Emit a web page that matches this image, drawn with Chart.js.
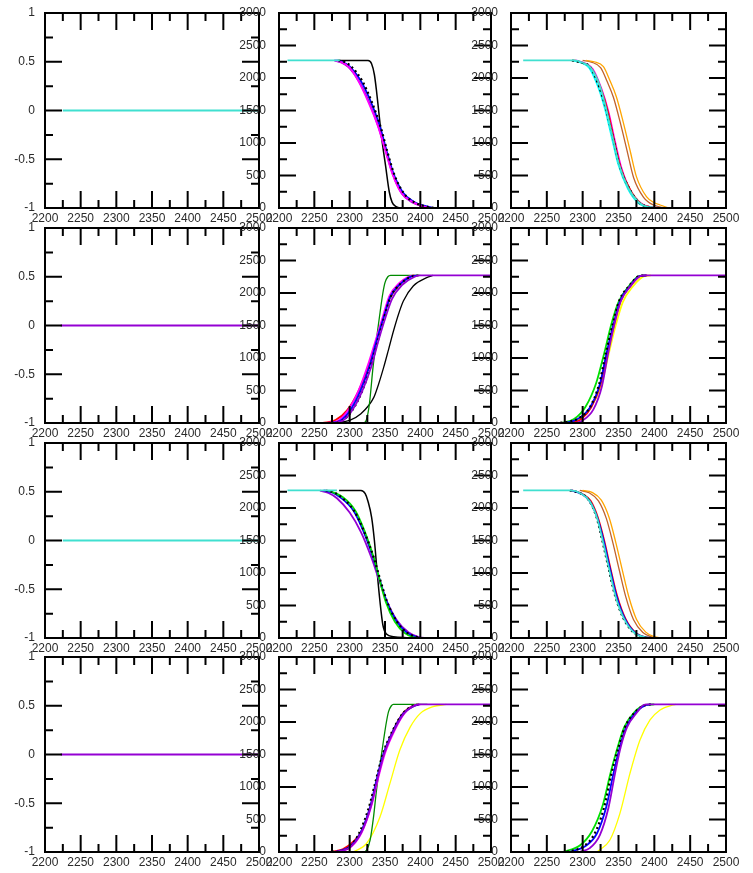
<!DOCTYPE html>
<html>
<head>
<meta charset="utf-8">
<script src="https://cdn.jsdelivr.net/npm/chart.js@4.4.1/dist/chart.umd.min.js"></script>
<style>
  html, body { margin: 0; padding: 0; background: #fff; }
  #wrap { position: relative; width: 753px; height: 873px; overflow: hidden; background: #fff; }
  canvas { position: absolute; }
</style>
</head>
<body>
<div id="wrap"></div>
<script>
// ---------- tick labels ----------
const xTickVals = [2200, 2250, 2300, 2350, 2400, 2450, 2500];
const yTickValsFlat = [-1, -0.5, 0, 0.5, 1];
const yTickValsCount = [0, 500, 1000, 1500, 2000, 2500, 3000];

// ---------- colours ----------
const C = {
  turq: '#40e0d0', black: '#000000', blue: '#0000ff', violet: '#9400d3',
  magenta: '#ff00ff', red: '#ff0000', green: '#008b00', lime: '#00e000',
  yellow: '#ffff00', orange: '#ffa500', brown: '#c0622d', cyan: '#00ffff'
};

// ---------- column 1 (flat lines at 0) ----------
const r1c1Turq = [[2225, 0], [2500, 0]];
const r2c1Violet = [[2222, 0], [2500, 0]];
const r3c1Turq = [[2225, 0], [2500, 0]];
const r4c1Violet = [[2222, 0], [2500, 0]];

// ---------- row 1, column 2 ----------
const r1c2Turq = [[2212, 2270], [2286, 2270]];
const r1c2BlackSharp = [[2282, 2270], [2326, 2268], [2331, 2220], [2335, 2050], [2338, 1800], [2341, 1500], [2345, 1100], [2351, 635], [2356, 250], [2360, 90], [2365, 25], [2372, 0], [2380, 0]];
const r1c2Blue = [[2280, 2270], [2290, 2245], [2300, 2180], [2315, 1970], [2329, 1660], [2343, 1250], [2352, 890], [2362, 530], [2376, 230], [2390, 100], [2405, 35], [2420, 0]];
const r1c2Violet = [[2278, 2270], [2288, 2240], [2298, 2170], [2313, 1950], [2327, 1640], [2341, 1240], [2351, 880], [2361, 520], [2374, 220], [2388, 90], [2402, 30], [2415, 0]];
const r1c2Magenta = [[2280, 2268], [2290, 2235], [2300, 2160], [2312, 1960], [2326, 1640], [2340, 1260], [2350, 900], [2360, 540], [2372, 250], [2386, 110], [2400, 40], [2412, 0]];
const r1c2BlackDot = [[2284, 2270], [2294, 2240], [2303, 2170], [2318, 1950], [2331, 1640], [2344, 1240], [2353, 880], [2363, 520], [2377, 220], [2392, 85], [2408, 25], [2420, 0]];

// ---------- row 1, column 3 ----------
const r1c3Turq = [[2217, 2270], [2288, 2270], [2300, 2235], [2311, 2160], [2324, 1880], [2333, 1520], [2342, 1080], [2351, 660], [2364, 300], [2378, 90], [2392, 15], [2420, 0]];
const r1c3BlackDot = [[2285, 2270], [2297, 2240], [2310, 2174], [2323, 1870], [2333, 1508], [2343, 1046], [2352, 635], [2366, 277], [2380, 72], [2394, 10], [2405, 0]];
const r1c3Red = [[2288, 2270], [2300, 2230], [2312, 2150], [2325, 1850], [2335, 1490], [2344, 1030], [2353, 620], [2367, 265], [2381, 70], [2396, 10], [2405, 0]];
const r1c3Magenta = [[2290, 2270], [2302, 2230], [2314, 2140], [2326, 1840], [2336, 1480], [2345, 1030], [2354, 620], [2367, 260], [2382, 65], [2398, 8], [2410, 0]];
const r1c3Cyan = [[2286, 2270], [2298, 2235], [2309, 2160], [2321, 1880], [2331, 1530], [2341, 1070], [2350, 660], [2363, 300], [2377, 85], [2392, 12], [2402, 0]];
const r1c3Orange = [[2305, 2270], [2316, 2250], [2329, 2174], [2338, 1960], [2347, 1712], [2357, 1303], [2366, 892], [2375, 482], [2389, 174], [2400, 80], [2408, 46], [2420, 0]];
const r1c3Brown = [[2300, 2270], [2312, 2245], [2325, 2160], [2334, 1950], [2343, 1700], [2353, 1290], [2362, 880], [2371, 470], [2385, 165], [2400, 40], [2415, 0]];

// ---------- row 2, column 2 ----------
const r2c2Violet = [[2270, 0], [2288, 25], [2302, 170], [2317, 470], [2331, 880], [2340, 1240], [2350, 1600], [2360, 1910], [2374, 2120], [2392, 2250], [2400, 2270], [2500, 2270]];
const r2c2Blue = [[2272, 0], [2286, 31], [2300, 185], [2315, 492], [2329, 903], [2338, 1262], [2348, 1620], [2357, 1928], [2371, 2133], [2385, 2245], [2395, 2270]];
const r2c2Magenta = [[2268, 0], [2284, 40], [2298, 200], [2313, 510], [2327, 930], [2337, 1280], [2347, 1640], [2356, 1950], [2370, 2150], [2383, 2250], [2390, 2270]];
const r2c2Red = [[2262, 0], [2280, 45], [2296, 190], [2312, 480], [2327, 880], [2337, 1240], [2347, 1600], [2357, 1920], [2372, 2140], [2386, 2255], [2392, 2270]];
const r2c2BlackDot = [[2275, 0], [2290, 40], [2304, 200], [2318, 500], [2331, 920], [2340, 1270], [2349, 1630], [2358, 1940], [2372, 2140], [2390, 2262], [2398, 2270]];
const r2c2GreenSharp = [[2300, 0], [2319, 0], [2324, 60], [2328, 300], [2333, 851], [2338, 1300], [2343, 1700], [2347, 2000], [2350, 2159], [2354, 2250], [2358, 2270], [2400, 2270]];
const r2c2BlackRight = [[2280, 0], [2300, 40], [2315, 133], [2334, 390], [2341, 600], [2348, 851], [2355, 1130], [2362, 1415], [2369, 1670], [2376, 1877], [2390, 2108], [2409, 2236], [2418, 2270]];

// ---------- row 2, column 3 ----------
const r2c3Violet = [[2290, 0], [2300, 40], [2315, 210], [2327, 570], [2335, 1040], [2344, 1510], [2353, 1870], [2367, 2110], [2381, 2262], [2389, 2270], [2500, 2270]];
const r2c3Blue = [[2275, 0], [2292, 56], [2310, 236], [2324, 595], [2333, 1056], [2343, 1518], [2352, 1877], [2366, 2108], [2380, 2262], [2389, 2270]];
const r2c3BlackDot = [[2262, 0], [2280, 20], [2294, 70], [2310, 240], [2323, 600], [2332, 1060], [2342, 1520], [2351, 1880], [2365, 2110], [2379, 2262], [2388, 2270]];
const r2c3Lime = [[2270, 0], [2288, 60], [2304, 250], [2319, 620], [2330, 1070], [2340, 1520], [2350, 1860], [2364, 2100], [2378, 2255], [2388, 2270]];
const r2c3Yellow = [[2280, 0], [2295, 60], [2310, 230], [2326, 590], [2336, 1050], [2346, 1500], [2356, 1860], [2370, 2100], [2385, 2255], [2395, 2270]];
const r2c3Red = [[2285, 0], [2298, 60], [2312, 240], [2325, 600], [2334, 1060], [2344, 1520], [2353, 1880], [2367, 2110], [2381, 2262], [2390, 2270]];

// ---------- row 3, column 2 ----------
const r3c2Turq = [[2212, 2270], [2282, 2270]];
const r3c2BlackSharp = [[2285, 2270], [2316, 2268], [2322, 2220], [2326, 2100], [2331, 1860], [2335, 1500], [2339, 1000], [2343, 550], [2347, 200], [2352, 60], [2362, 20], [2380, 5], [2400, 0]];
const r3c2Blue = [[2263, 2270], [2275, 2240], [2286, 2170], [2305, 1964], [2319, 1655], [2333, 1242], [2343, 881], [2352, 572], [2366, 263], [2381, 82], [2395, 10], [2400, 0]];
const r3c2Violet = [[2258, 2268], [2270, 2230], [2282, 2150], [2300, 1930], [2316, 1630], [2331, 1230], [2342, 880], [2352, 580], [2367, 270], [2383, 90], [2398, 15], [2410, 0]];
const r3c2Lime = [[2270, 2270], [2290, 2170], [2308, 1960], [2321, 1650], [2334, 1240], [2343, 870], [2351, 560], [2364, 250], [2378, 75], [2392, 5], [2395, 0]];
const r3c2BlackDot = [[2266, 2270], [2278, 2240], [2288, 2170], [2306, 1960], [2320, 1650], [2334, 1240], [2344, 870], [2353, 560], [2367, 250], [2382, 75], [2400, 0]];

// ---------- row 3, column 3 ----------
const r3c3Turq = [[2217, 2270], [2283, 2270], [2298, 2220], [2310, 2100], [2320, 1850], [2328, 1500], [2337, 1060], [2346, 640], [2358, 290], [2372, 80], [2388, 10], [2400, 0]];
const r3c3BlackDot = [[2282, 2270], [2296, 2230], [2308, 2130], [2319, 1870], [2327, 1520], [2336, 1080], [2345, 660], [2357, 300], [2371, 85], [2386, 10], [2395, 0]];
const r3c3Red = [[2285, 2270], [2299, 2220], [2311, 2110], [2321, 1860], [2330, 1500], [2339, 1060], [2348, 650], [2360, 290], [2374, 80], [2390, 8], [2400, 0]];
const r3c3Blue = [[2284, 2270], [2297, 2225], [2309, 2120], [2320, 1865], [2329, 1510], [2338, 1070], [2347, 655], [2359, 295], [2373, 82], [2388, 9], [2398, 0]];
const r3c3Orange = [[2300, 2270], [2313, 2240], [2326, 2120], [2337, 1850], [2346, 1480], [2355, 1060], [2364, 650], [2375, 290], [2388, 90], [2400, 20], [2410, 0]];
const r3c3Brown = [[2296, 2270], [2309, 2235], [2322, 2110], [2333, 1840], [2342, 1470], [2351, 1050], [2360, 640], [2371, 280], [2384, 85], [2397, 15], [2405, 0]];

// ---------- row 4, column 2 ----------
const r4c2Violet = [[2277, 0], [2300, 70], [2316, 290], [2330, 700], [2339, 1110], [2349, 1520], [2363, 1877], [2377, 2133], [2393, 2255], [2400, 2270], [2500, 2270]];
const r4c2Blue = [[2280, 0], [2300, 82], [2315, 288], [2329, 697], [2338, 1108], [2348, 1518], [2362, 1877], [2376, 2133], [2392, 2250], [2398, 2270]];
const r4c2Red = [[2272, 0], [2290, 40], [2305, 160], [2318, 340], [2330, 720], [2339, 1120], [2349, 1530], [2362, 1880], [2376, 2140], [2392, 2255], [2398, 2270]];
const r4c2Magenta = [[2285, 0], [2302, 80], [2317, 300], [2331, 720], [2340, 1120], [2350, 1520], [2364, 1880], [2378, 2140], [2394, 2262], [2400, 2270]];
const r4c2BlackDot = [[2275, 0], [2298, 60], [2312, 260], [2327, 680], [2337, 1100], [2347, 1510], [2361, 1870], [2375, 2130], [2390, 2250], [2396, 2270]];
const r4c2GreenSharp = [[2300, 0], [2319, 0], [2324, 30], [2329, 185], [2334, 560], [2338, 954], [2343, 1350], [2348, 1723], [2352, 2000], [2355, 2159], [2359, 2250], [2362, 2270], [2410, 2270]];
const r4c2Yellow = [[2305, 0], [2324, 133], [2343, 543], [2357, 1056], [2371, 1569], [2386, 1928], [2400, 2133], [2418, 2236], [2437, 2270]];

// ---------- row 4, column 3 ----------
const r4c3Violet = [[2295, 0], [2310, 60], [2324, 260], [2336, 680], [2345, 1200], [2353, 1610], [2362, 1920], [2376, 2150], [2385, 2262], [2390, 2270], [2500, 2270]];
const r4c3Blue = [[2282, 0], [2306, 108], [2320, 288], [2333, 697], [2343, 1210], [2352, 1620], [2361, 1928], [2375, 2159], [2389, 2262], [2395, 2270]];
const r4c3BlackDot = [[2278, 0], [2300, 80], [2316, 270], [2330, 690], [2340, 1200], [2350, 1610], [2359, 1920], [2373, 2150], [2388, 2262], [2395, 2270]];
const r4c3Lime = [[2272, 0], [2296, 100], [2313, 320], [2328, 720], [2339, 1220], [2349, 1620], [2358, 1920], [2372, 2150], [2388, 2262], [2400, 2270]];
const r4c3Yellow = [[2320, 0], [2338, 185], [2352, 595], [2366, 1210], [2380, 1723], [2394, 2031], [2408, 2185], [2426, 2262], [2430, 2270]];

// ---------- layout ----------
const ROW_TOPS = [13, 228, 443, 657];
const ROW_H = 195;
const COL_LEFTS = [45, 279, 511];
const COL_WS = [214, 212, 215];
const AXIS_W = 45, AXIS_H = 25, PAD_T = 24, PAD_R = 22;
const MAJOR = 17, MINOR = 8;

function ds(points, color, opts = {}) {
  return {
    data: points.map(p => ({ x: p[0], y: p[1] })),
    borderColor: color,
    borderWidth: opts.width || 1.8,
    borderDash: opts.dash || [],
    fill: false,
    pointRadius: 0
  };
}

const dotted = { dash: [2, 3], width: 2.2 };

const panels = [
  // row 1
  [ [ds(r1c1Turq, C.turq)],
    [ds(r1c2Turq, C.turq), ds(r1c2BlackDot, C.black, dotted), ds(r1c2Magenta, C.magenta), ds(r1c2Violet, C.violet), ds(r1c2Blue, C.blue), ds(r1c2BlackSharp, C.black, { width: 1.5 })],
    [ds(r1c3Turq, C.turq), ds(r1c3BlackDot, C.black, dotted), ds(r1c3Cyan, C.cyan), ds(r1c3Red, C.red), ds(r1c3Magenta, C.magenta), ds(r1c3Orange, C.orange, { width: 1.3 }), ds(r1c3Brown, C.brown, { width: 1.3 })] ],
  // row 2
  [ [ds(r2c1Violet, C.violet)],
    [ds(r2c2Violet, C.violet), ds(r2c2BlackDot, C.black, dotted), ds(r2c2Blue, C.blue), ds(r2c2Magenta, C.magenta), ds(r2c2Red, C.red), ds(r2c2GreenSharp, C.green, { width: 1.3 }), ds(r2c2BlackRight, C.black, { width: 1.3 })],
    [ds(r2c3Violet, C.violet), ds(r2c3BlackDot, C.black, dotted), ds(r2c3Blue, C.blue), ds(r2c3Red, C.red), ds(r2c3Lime, C.lime), ds(r2c3Yellow, C.yellow)] ],
  // row 3
  [ [ds(r3c1Turq, C.turq)],
    [ds(r3c2Turq, C.turq), ds(r3c2BlackDot, C.black, dotted), ds(r3c2Lime, C.lime), ds(r3c2Blue, C.blue), ds(r3c2Violet, C.violet), ds(r3c2BlackSharp, C.black, { width: 1.5 })],
    [ds(r3c3Turq, C.turq), ds(r3c3BlackDot, C.black, dotted), ds(r3c3Blue, C.blue), ds(r3c3Red, C.red), ds(r3c3Orange, C.orange, { width: 1.3 }), ds(r3c3Brown, C.brown, { width: 1.3 })] ],
  // row 4
  [ [ds(r4c1Violet, C.violet)],
    [ds(r4c2Violet, C.violet), ds(r4c2BlackDot, C.black, dotted), ds(r4c2Blue, C.blue), ds(r4c2Magenta, C.magenta), ds(r4c2Red, C.red), ds(r4c2GreenSharp, C.green, { width: 1.3 }), ds(r4c2Yellow, C.yellow, { width: 1.3 })],
    [ds(r4c3Violet, C.violet), ds(r4c3BlackDot, C.black, dotted), ds(r4c3Blue, C.blue), ds(r4c3Lime, C.lime), ds(r4c3Yellow, C.yellow, { width: 1.3 })] ]
];

// inward tick marks + frame drawn through the chart's own scales
const frameTicks = {
  id: 'frameTicks',
  afterDatasetsDraw(chart) {
    const { ctx, chartArea: a, scales } = chart;
    const xs = scales.x, ys = scales.y;
    ctx.save();
    ctx.strokeStyle = '#000';
    ctx.lineWidth = 2;
    ctx.lineCap = 'butt';
    const xv = xs.ticks.map(t => t.value);
    const yv = ys.ticks.map(t => t.value);
    const xMinor = xv.slice(1).map((v, i) => (v + xv[i]) / 2);
    const yMinor = yv.slice(1).map((v, i) => (v + yv[i]) / 2);
    ctx.beginPath();
    const vx = (v, len) => {
      const p = xs.getPixelForValue(v);
      if (p <= a.left + 1 || p >= a.right - 1) return;
      ctx.moveTo(p, a.bottom); ctx.lineTo(p, a.bottom - len);
      ctx.moveTo(p, a.top); ctx.lineTo(p, a.top + len);
    };
    const vy = (v, len) => {
      const p = ys.getPixelForValue(v);
      if (p <= a.top + 1 || p >= a.bottom - 1) return;
      ctx.moveTo(a.left, p); ctx.lineTo(a.left + len, p);
      ctx.moveTo(a.right, p); ctx.lineTo(a.right - len, p);
    };
    xv.forEach(v => vx(v, MAJOR));
    xMinor.forEach(v => vx(v, MINOR));
    yv.forEach(v => vy(v, MAJOR));
    yMinor.forEach(v => vy(v, MINOR));
    ctx.stroke();
    ctx.strokeRect(a.left, a.top, a.right - a.left, a.bottom - a.top);
    ctx.restore();
  }
};

const font = { family: "'Liberation Sans', Arial, sans-serif", size: 12 };
const labelColor = '#2a2a2a';
const wrap = document.getElementById('wrap');

panels.forEach((row, r) => {
  row.forEach((datasets, c) => {
    const flat = c === 0;
    const yVals = flat ? yTickValsFlat : yTickValsCount;
    const cv = document.createElement('canvas');
    const w = COL_WS[c] + AXIS_W + PAD_R;
    const h = ROW_H + PAD_T + AXIS_H;
    cv.width = w; cv.height = h;
    cv.style.left = (COL_LEFTS[c] - AXIS_W) + 'px';
    cv.style.top = (ROW_TOPS[r] - PAD_T) + 'px';
    cv.style.width = w + 'px'; cv.style.height = h + 'px';
    wrap.appendChild(cv);
    new Chart(cv, {
      type: 'line',
      data: { datasets },
      options: {
        responsive: false,
        animation: false,
        devicePixelRatio: 1,
        layout: { padding: { top: PAD_T, right: PAD_R, left: 0, bottom: 0 } },
        plugins: { legend: { display: false }, tooltip: { enabled: false } },
        elements: { point: { radius: 0 }, line: { tension: 0.4, cubicInterpolationMode: 'monotone' } },
        scales: {
          x: {
            type: 'linear', min: xTickVals[0], max: xTickVals[xTickVals.length - 1],
            afterBuildTicks: s => { s.ticks = xTickVals.map(v => ({ value: v })); },
            afterFit: s => { s.height = AXIS_H; },
            grid: { display: false, drawTicks: false },
            border: { display: false },
            ticks: { padding: 3, font, color: labelColor, autoSkip: false, maxRotation: 0, minRotation: 0, callback: v => String(v) }
          },
          y: {
            type: 'linear', min: yVals[0], max: yVals[yVals.length - 1],
            afterBuildTicks: s => { s.ticks = yVals.map(v => ({ value: v })); },
            afterFit: s => { s.width = AXIS_W; },
            grid: { display: false, drawTicks: false },
            border: { display: false },
            ticks: { padding: flat ? 10 : 13, font, color: labelColor, autoSkip: false, callback: v => String(v) }
          }
        }
      },
      plugins: [frameTicks]
    });
  });
});
</script>
</body>
</html>
